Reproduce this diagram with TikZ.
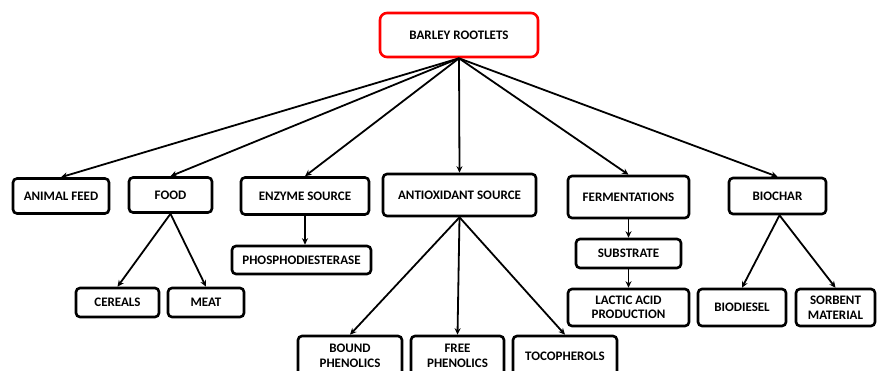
\documentclass[tikz,border=0pt]{standalone}
\usepackage{fontspec}
\setmainfont{Carlito}
\usetikzlibrary{arrows.meta}

\begin{document}
\begin{tikzpicture}[
		x=1pt, y=-1pt,
		box/.style={draw, rounded corners=4pt, line width=2.6pt, align=center, inner sep=0pt,
			font=\fontsize{13}{14.5}\selectfont\bfseries},
		rootbox/.style={box, draw=red, rounded corners=7pt},
		arr/.style={line width=1.8pt, -{Stealth[length=6.5pt,width=6pt]}}
		]
		\useasboundingbox (0,0) rectangle (877,371);
		\clip (0,0) rectangle (877,371);
		\node[rootbox, minimum width=158pt, minimum height=44pt] (root) at (459,35) {BARLEY ROOTLETS};
		
		\node[box, minimum width=96pt, minimum height=35pt] (feed) at (61,196) {ANIMAL FEED};
		\node[box, minimum width=83pt, minimum height=35pt] (food) at (170.5,195) {FOOD};
		\node[box, minimum width=128pt, minimum height=37pt] (enzyme) at (305,196) {ENZYME SOURCE};
		\node[box, minimum width=153pt, minimum height=42pt] (antiox) at (459.5,195) {ANTIOXIDANT SOURCE};
		\node[box, minimum width=121pt, minimum height=42pt] (ferm) at (628.5,197) {FERMENTATIONS};
		\node[box, minimum width=97pt, minimum height=36pt] (biochar) at (777.5,196) {BIOCHAR};
		
		\node[box, minimum width=83pt, minimum height=29pt] (cereals) at (117.5,302.5) {CEREALS};
		\node[box, minimum width=76pt, minimum height=29pt] (meat) at (206,302.5) {MEAT};
		\node[box, minimum width=139pt, minimum height=28pt] (phospho) at (301.5,260) {PHOSPHODIESTERASE};
		\node[box, minimum width=104pt, minimum height=40pt] (bound) at (350,356) {BOUND\\PHENOLICS};
		\node[box, minimum width=93pt, minimum height=40pt] (free) at (457.5,356) {FREE\\PHENOLICS};
		\node[box, minimum width=104pt, minimum height=40pt] (toco) at (565,356) {TOCOPHEROLS};
		\node[box, minimum width=105pt, minimum height=29pt] (subs) at (628.5,253.5) {SUBSTRATE};
		\node[box, minimum width=121pt, minimum height=37pt] (lactic) at (628.5,307.5) {LACTIC ACID\\PRODUCTION};
		\node[box, minimum width=88pt, minimum height=37pt] (biodiesel) at (742,307.5) {BIODIESEL};
		\node[box, minimum width=79pt, minimum height=37pt] (sorbent) at (835.5,307.5) {SORBENT\\MATERIAL};
		
		\foreach \t in {feed,food,enzyme,antiox,ferm,biochar}
			\draw[arr] (root.south) -- (\t.north);
		\draw[arr] (food.south) -- (cereals.north);
		\draw[arr] (food.south) -- (meat.north);
		\draw[arr] (enzyme.south) -- (enzyme.south |- phospho.north);
		\draw[arr] (antiox.south) -- (bound.north);
		\draw[arr] (antiox.south) -- (free.north);
		\draw[arr] (antiox.south) -- (toco.north);
		\draw[arr] (ferm.south) -- (subs.north);
		\draw[arr] (subs.south) -- (lactic.north);
		\draw[arr] ([xshift=2pt]biochar.south) -- (biodiesel.north);
		\draw[arr] ([xshift=2pt]biochar.south) -- (sorbent.north);
	\end{tikzpicture}
\end{document}
